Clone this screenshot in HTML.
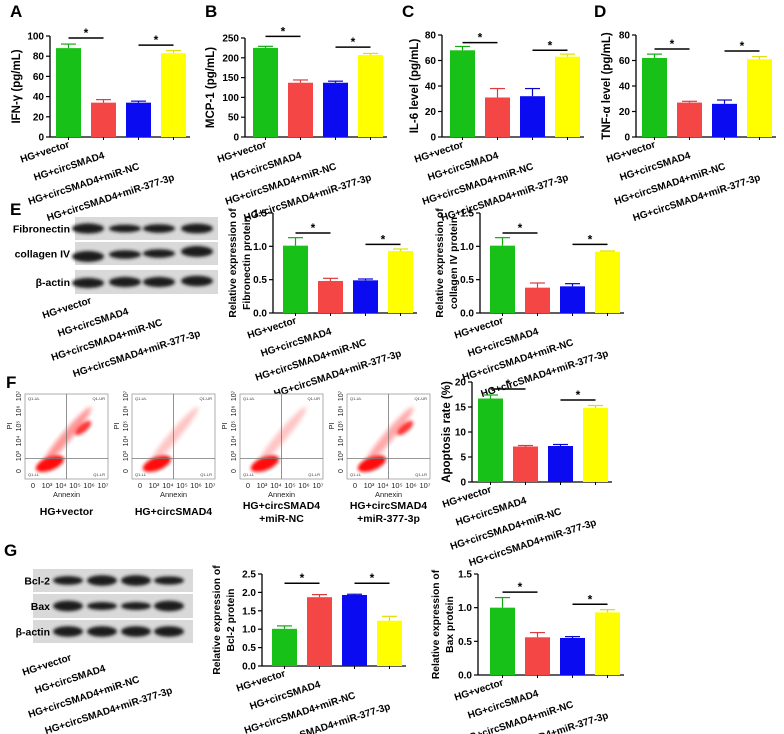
<!DOCTYPE html>
<html><head><meta charset="utf-8">
<style>
html,body{margin:0;padding:0;background:#fff;}
svg{display:block;font-family:"Liberation Sans",Arial,sans-serif;}
</style></head>
<body>
<svg id="fig" width="784" height="734" viewBox="0 0 784 734" xmlns="http://www.w3.org/2000/svg">
<defs>
<filter id="blur1" x="-20%" y="-50%" width="140%" height="200%"><feGaussianBlur stdDeviation="1.6"/></filter>
<filter id="blur2" x="-30%" y="-30%" width="160%" height="160%"><feGaussianBlur stdDeviation="2.2"/></filter>
</defs>
<g font-weight="bold" font-size="17" fill="#000">
<text x="10" y="17">A</text>
<text x="205" y="17">B</text>
<text x="402" y="17">C</text>
<text x="594" y="17">D</text>
<text x="10" y="215">E</text>
<text x="6" y="388">F</text>
<text x="4" y="556">G</text>
</g>
<g id="layer"></g>
</svg>
<script>
const categories=["HG+vector","HG+circSMAD4","HG+circSMAD4+miR-NC","HG+circSMAD4+miR-377-3p"];
const barColors=["#17c117","#f54646","#0b0bf2","#ffff00"];
const errColors=["#13a813","#e03a3a","#0707c8","#dede00"];

const ifnVals=[88,34,34,83]; const ifnErr=[4,3,1.5,2.5]; const ifnTicks=[0,20,40,60,80,100]; const ifnSig=[[0,1,98],[2,3,91]];
const mcpVals=[225,137,137,207]; const mcpErr=[4,7,4,4]; const mcpTicks=[0,50,100,150,200,250]; const mcpSig=[[0,1,254],[2,3,227]];
const il6Vals=[68,31,32,63]; const il6Err=[3,7,6,2]; const il6Ticks=[0,20,40,60,80]; const il6Sig=[[0,1,74],[2,3,68]];
const tnfVals=[62,27,26,61]; const tnfErr=[3,1,3,2]; const tnfTicks=[0,20,40,60,80]; const tnfSig=[[0,1,69],[2,3,67.5]];
const fibVals=[1.01,0.48,0.49,0.93]; const fibErr=[0.12,0.04,0.02,0.03]; const fibTicks=[0,0.5,1.0,1.5]; const fibSig=[[0,1,1.2],[2,3,1.03]];
const colVals=[1.01,0.38,0.40,0.92]; const colErr=[0.12,0.07,0.04,0.01]; const colTicks=[0,0.5,1.0,1.5]; const colSig=[[0,1,1.2],[2,3,1.03]];
const apoVals=[16.7,7.1,7.2,14.8]; const apoErr=[0.7,0.2,0.3,0.5]; const apoTicks=[0,5,10,15,20]; const apoSig=[[0,1,18.6],[2,3,16.4]];
const bclVals=[1.01,1.87,1.93,1.23]; const bclErr=[0.08,0.07,0.02,0.12]; const bclTicks=[0,0.5,1.0,1.5,2.0,2.5]; const bclSig=[[0,1,2.25],[2,3,2.25]];
const baxVals=[1.0,0.56,0.55,0.93]; const baxErr=[0.15,0.07,0.02,0.04]; const baxTicks=[0,0.5,1.0,1.5]; const baxSig=[[0,1,1.23],[2,3,1.05]];

const NS="http://www.w3.org/2000/svg";
const layer=document.getElementById('layer');
function mk(tag,attrs,parent){const e=document.createElementNS(NS,tag);for(const k in attrs)e.setAttribute(k,attrs[k]);(parent||layer).appendChild(e);return e;}
function fmt(v,dec){return dec?v.toFixed(1):String(v);}

function barChart(name,vals,errs,ticks,sig,g,titleLines,dec){
  const grp=mk('g',{});
  
  
  const max=ticks[ticks.length-1];
  const ys=v=>g.yBot-(v/max)*(g.yBot-g.yTop);
  const xs=i=>g.bar0+i*35;
  const ya=mk('line',{x1:g.axis,y1:g.yTop,x2:g.axis,y2:g.yBot,stroke:'#000','stroke-width':1.3},grp);
  
  
  const xa=mk('line',{x1:g.axis,y1:g.yBot,x2:g.bar0+3*35+25+4,y2:g.yBot,stroke:'#000','stroke-width':1.3},grp);
  
  
  ticks.forEach(t=>{
    const y=ys(t);
    mk('line',{x1:g.axis-4,y1:y,x2:g.axis,y2:y,stroke:'#000','stroke-width':1.2},grp);
    const tl=mk('text',{x:g.axis-6,y:y+3.5,'text-anchor':'end','font-size':10,'font-weight':'bold'},grp);
    tl.textContent=fmt(t,dec);
    
    
  });
  vals.forEach((v,i)=>{
    const x=xs(i),y=ys(v),ye=ys(v+errs[i]);
    const b=mk('rect',{x:x,y:y,width:25,height:g.yBot-y,fill:barColors[i]},grp);
    
    
    mk('line',{x1:x+12.5,y1:y,x2:x+12.5,y2:ye,stroke:errColors[i],'stroke-width':1.2},grp);
    mk('line',{x1:x+5,y1:ye,x2:x+20,y2:ye,stroke:errColors[i],'stroke-width':1.2},grp);
    mk('line',{x1:x+12.5,y1:g.yBot,x2:x+12.5,y2:g.yBot+3,stroke:'#000','stroke-width':1},grp);
    const ex=x+14, ey=g.yBot+10+i*11;
    const lb=mk('text',{x:ex,y:ey,'text-anchor':'end','font-size':10,'font-weight':'bold',transform:`rotate(-18 ${ex} ${ey})`},grp);
    lb.textContent=categories[i];
    
    
  });
  sig.forEach(s=>{
    const y=ys(s[2]);const x1=xs(s[0])+12.5,x2=xs(s[1])+12.5;
    const l=mk('line',{x1:x1,y1:y,x2:x2,y2:y,stroke:'#000','stroke-width':1.5},grp);
    
    
    const st=mk('text',{x:(x1+x2)/2,y:y-1,'text-anchor':'middle','font-size':12,'font-weight':'bold'},grp);
    st.textContent='*';
    
    
  });
  const cy=(g.yTop+g.yBot)/2;
  const fs=titleLines.length>1?10.3:11.5;
  titleLines.forEach((t,k)=>{
    const tx=g.tx+k*14;
    const tt=mk('text',{x:tx,y:cy,'text-anchor':'middle','font-size':fs,'font-weight':'bold',transform:`rotate(-90 ${tx} ${cy})`},grp);
    tt.textContent=t;
    
    
  });
}

barChart('chart-ifn-gamma',ifnVals,ifnErr,ifnTicks,ifnSig,{axis:50,bar0:56,yTop:36,yBot:137,tx:20},['IFN-γ (pg/mL)'],false);
barChart('chart-mcp-1',mcpVals,mcpErr,mcpTicks,mcpSig,{axis:245,bar0:253,yTop:38,yBot:137,tx:214},['MCP-1 (pg/mL)'],false);
barChart('chart-il-6',il6Vals,il6Err,il6Ticks,il6Sig,{axis:442,bar0:450,yTop:35,yBot:137,tx:418},['IL-6 level (pg/mL)'],false);
barChart('chart-tnf-alpha',tnfVals,tnfErr,tnfTicks,tnfSig,{axis:636,bar0:642,yTop:35,yBot:137,tx:610},['TNF-α level (pg/mL)'],false);
barChart('chart-fibronectin',fibVals,fibErr,fibTicks,fibSig,{axis:273,bar0:283,yTop:213,yBot:313,tx:236},['Relative expression of','Fibronectin protein'],true);
barChart('chart-collagen-iv',colVals,colErr,colTicks,colSig,{axis:480,bar0:490,yTop:213,yBot:313,tx:443},['Relative expression of','collagen IV protein'],true);
barChart('chart-apoptosis',apoVals,apoErr,apoTicks,apoSig,{axis:472,bar0:478,yTop:382,yBot:482,tx:450},['Apoptosis rate (%)'],false);
barChart('chart-bcl-2',bclVals,bclErr,bclTicks,bclSig,{axis:262,bar0:272,yTop:574,yBot:666,tx:220},['Relative expression of','Bcl-2 protein'],true);
barChart('chart-bax',baxVals,baxErr,baxTicks,baxSig,{axis:478,bar0:490,yTop:574,yBot:675,tx:439},['Relative expression of','Bax protein'],true);

function blot(name,x0,x1,rows,labels,lanes,bandW,labelX,labelBottom){
  const grp=mk('g',{});
  
  
  rows.forEach((r,k)=>{
    mk('rect',{x:x0,y:r[0],width:x1-x0,height:r[1]-r[0],fill:'#d9d9d9'},grp);
    const cy=(r[0]+r[1])/2;
    lanes.forEach((lx,i)=>{
      mk('ellipse',{cx:lx,cy:cy+(r[2]?r[2][i]:0),rx:bandW/2,ry:bandW*0.06*(r[3]?r[3][i]:1)+2,fill:'#1a1a1a',filter:'url(#blur1)'},grp);
    });
    const t=mk('text',{x:labelX,y:cy+4,'text-anchor':'end','font-size':10.5,'font-weight':'bold'},grp);
    t.textContent=labels[k];
    
    
  });
  lanes.forEach((lx,i)=>{
    const ex=lx+4,ey=labelBottom+i*11;
    const lb=mk('text',{x:ex,y:ey,'text-anchor':'end','font-size':10,'font-weight':'bold',transform:`rotate(-18 ${ex} ${ey})`},grp);
    lb.textContent=categories[i];
    
    
  });
}
blot('western-blot-e',75,218,[[217,240,[0,0,0,0],[1.6,1,1.2,1.5]],[242,265,[3,1,0,-2],[1.8,1.2,1.2,1.8]],[270,294,[1,0,0,-1],[1.6,1.6,1.6,1.7]]],['Fibronectin','collagen IV','β-actin'],[88,125,159,197],32,70,303);
blot('western-blot-g',33,193,[[569,592,[0,0,0,0],[1.3,1.8,1.8,1.2]],[594,618,[0,0,0,0],[1.8,1.1,1.1,1.8]],[620,643,[0,0,0,0],[1.8,1.8,1.8,1.8]]],['Bcl-2','Bax','β-actin'],[68,102,136,169],30,50,660);

const flowLabels=[['HG+vector'],['HG+circSMAD4'],['HG+circSMAD4','+miR-NC'],['HG+circSMAD4','+miR-377-3p']];
const flowX=[25,132,240,347];
const streakOpacity=[0.55,0.3,0.3,0.45];
flowX.forEach((x,i)=>{
  const grp=mk('g',{});
  
  
  const y=394,w=83,h=85;
  mk('rect',{x:x,y:y,width:w,height:h,fill:'#fff',stroke:'#999','stroke-width':0.8},grp);
  mk('ellipse',{cx:x+w*0.5,cy:y+h*0.5,rx:h*0.45,ry:5,fill:'#ff4040',opacity:streakOpacity[i],transform:`rotate(-50 ${x+w*0.5} ${y+h*0.5})`,filter:'url(#blur2)'},grp);
  if(i===0||i===3) mk('ellipse',{cx:x+w*0.7,cy:y+h*0.4,rx:10,ry:4,fill:'#ff2020',opacity:0.9,transform:`rotate(-40 ${x+w*0.7} ${y+h*0.4})`,filter:'url(#blur1)'},grp);
  mk('ellipse',{cx:x+w*0.3,cy:y+h*0.82,rx:15,ry:6.5,fill:'#ff1010',transform:`rotate(-22 ${x+w*0.3} ${y+h*0.82})`,filter:'url(#blur1)'},grp);
  mk('line',{x1:x+w*0.5,y1:y,x2:x+w*0.5,y2:y+h,stroke:'#777','stroke-width':0.8},grp);
  mk('line',{x1:x,y1:y+h*0.76,x2:x+w,y2:y+h*0.76,stroke:'#777','stroke-width':0.8},grp);
  [['Q1-UL',x+3,y+6,'start'],['Q1-UR',x+w-3,y+6,'end'],['Q1-LL',x+3,y+h-3,'start'],['Q1-LR',x+w-3,y+h-3,'end']].forEach(q=>{
    const t=mk('text',{x:q[1],y:q[2],'font-size':4,'text-anchor':q[3],fill:'#333'},grp);t.textContent=q[0];
  });
  const xt=['0','10³','10⁴','10⁵','10⁶','10⁷'];
  xt.forEach((t,k)=>{const tx=x+8+k*14;const e=mk('text',{x:tx,y:y+h+9,'font-size':7.5,'text-anchor':'middle',fill:'#222'},grp);e.textContent=t;});
  xt.forEach((t,k)=>{const ty=y+h-8-k*15;const e=mk('text',{x:x-4,y:ty,'font-size':7,'text-anchor':'middle',fill:'#222',transform:`rotate(-90 ${x-4} ${ty})`},grp);e.textContent=t;});
  const an=mk('text',{x:x+w/2,y:y+h+18,'font-size':7.5,'text-anchor':'middle',fill:'#222'},grp);an.textContent='Annexin';
  const pi=mk('text',{x:x-13,y:y+32,'font-size':7.5,'text-anchor':'middle',fill:'#222',transform:`rotate(-90 ${x-13} ${y+32})`},grp);pi.textContent='PI';
  const L=flowLabels[i];
  L.forEach((s,k)=>{
    const ty=L.length===1?515:509+k*13;
    const e=mk('text',{x:x+w/2,y:ty,'font-size':10.5,'font-weight':'bold','text-anchor':'middle'},grp);
    e.textContent=s;
    
    
  });
});
</script>
</body></html>
